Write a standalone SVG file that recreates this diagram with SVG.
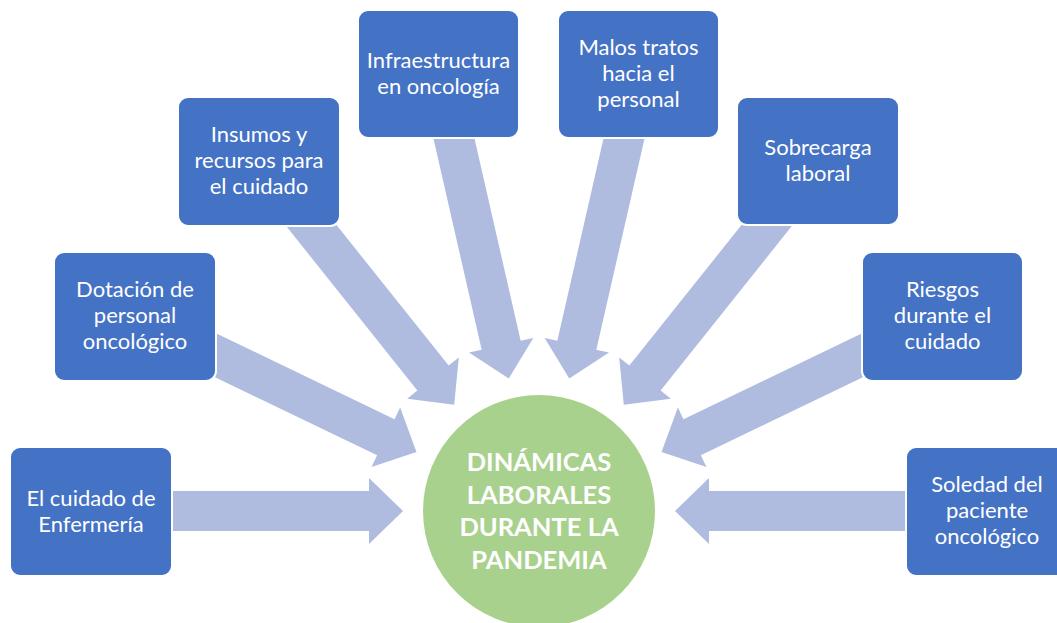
<svg xmlns="http://www.w3.org/2000/svg" xmlns:xlink="http://www.w3.org/1999/xlink" width="1057" height="623" viewBox="0 0 1057 623">
<style>
.box{fill:#4472C4;stroke:#FFFFFF;stroke-width:2}
.lbl{fill:#FFFFFF;font-family:Lato,"Open Sans","Liberation Sans",sans-serif;font-size:22px;text-anchor:middle}
.ctr{fill:#FFFFFF;font-family:Lato,"Open Sans","Liberation Sans",sans-serif;font-size:25.5px;font-weight:bold;text-anchor:middle}
.arr{fill:#AFBCE0}
</style>
<defs>
<path id="arrow" d="M400,-20 L170,-20 L170,-33 L136,0 L170,33 L170,20 L400,20 Z"/>
</defs>
<rect width="1057" height="623" fill="#FFFFFF"/>
<g id="connectors" class="arr">
<use xlink:href="#arrow" transform="translate(539 511) rotate(180)"/>
<use xlink:href="#arrow" transform="translate(539 511) rotate(205.714)"/>
<use xlink:href="#arrow" transform="translate(539 511) rotate(231.429)"/>
<use xlink:href="#arrow" transform="translate(539 511) rotate(257.143)"/>
<use xlink:href="#arrow" transform="translate(539 511) rotate(282.857)"/>
<use xlink:href="#arrow" transform="translate(539 511) rotate(308.571)"/>
<use xlink:href="#arrow" transform="translate(539 511) rotate(334.286)"/>
<use xlink:href="#arrow" transform="translate(539 511) rotate(360)"/>
</g>
<g id="center">
<circle cx="539" cy="511" r="116" fill="#A9D18E"/>
<text class="ctr" x="539" y="471">DINÁMICAS</text>
<text class="ctr" x="539" y="503.5">LABORALES</text>
<text class="ctr" x="539" y="536">DURANTE LA</text>
<text class="ctr" x="539" y="568.5">PANDEMIA</text>
</g>
<g id="n1">
<rect class="box" x="10" y="447" width="162" height="129" rx="10"/>
<text class="lbl" x="91" y="505.5">El cuidado de</text>
<text class="lbl" x="91" y="531.5">Enfermería</text>
</g>
<g id="n2">
<rect class="box" x="54" y="252" width="162" height="129" rx="10"/>
<text class="lbl" x="135" y="297">Dotación de</text>
<text class="lbl" x="135" y="323">personal</text>
<text class="lbl" x="135" y="349">oncológico</text>
</g>
<g id="n3">
<rect class="box" x="178" y="97" width="162" height="129" rx="10"/>
<text class="lbl" x="259" y="142">Insumos y</text>
<text class="lbl" x="259" y="168">recursos para</text>
<text class="lbl" x="259" y="194">el cuidado</text>
</g>
<g id="n4">
<rect class="box" x="358" y="10" width="161" height="128" rx="10"/>
<text class="lbl" x="438.5" y="67.5">Infraestructura</text>
<text class="lbl" x="438.5" y="93.5">en oncología</text>
</g>
<g id="n5">
<rect class="box" x="558" y="10" width="161" height="128" rx="10"/>
<text class="lbl" x="638.5" y="55">Malos tratos</text>
<text class="lbl" x="638.5" y="81">hacia el</text>
<text class="lbl" x="638.5" y="107">personal</text>
</g>
<g id="n6">
<rect class="box" x="737" y="97" width="162" height="128" rx="10"/>
<text class="lbl" x="818" y="155">Sobrecarga</text>
<text class="lbl" x="818" y="181">laboral</text>
</g>
<g id="n7">
<rect class="box" x="862" y="252" width="161" height="129" rx="10"/>
<text class="lbl" x="942.5" y="297">Riesgos</text>
<text class="lbl" x="942.5" y="323">durante el</text>
<text class="lbl" x="942.5" y="349">cuidado</text>
</g>
<g id="n8">
<rect class="box" x="906" y="447" width="162" height="129" rx="10"/>
<text class="lbl" x="987" y="492">Soledad del</text>
<text class="lbl" x="987" y="518">paciente</text>
<text class="lbl" x="987" y="544">oncológico</text>
</g>
</svg>
